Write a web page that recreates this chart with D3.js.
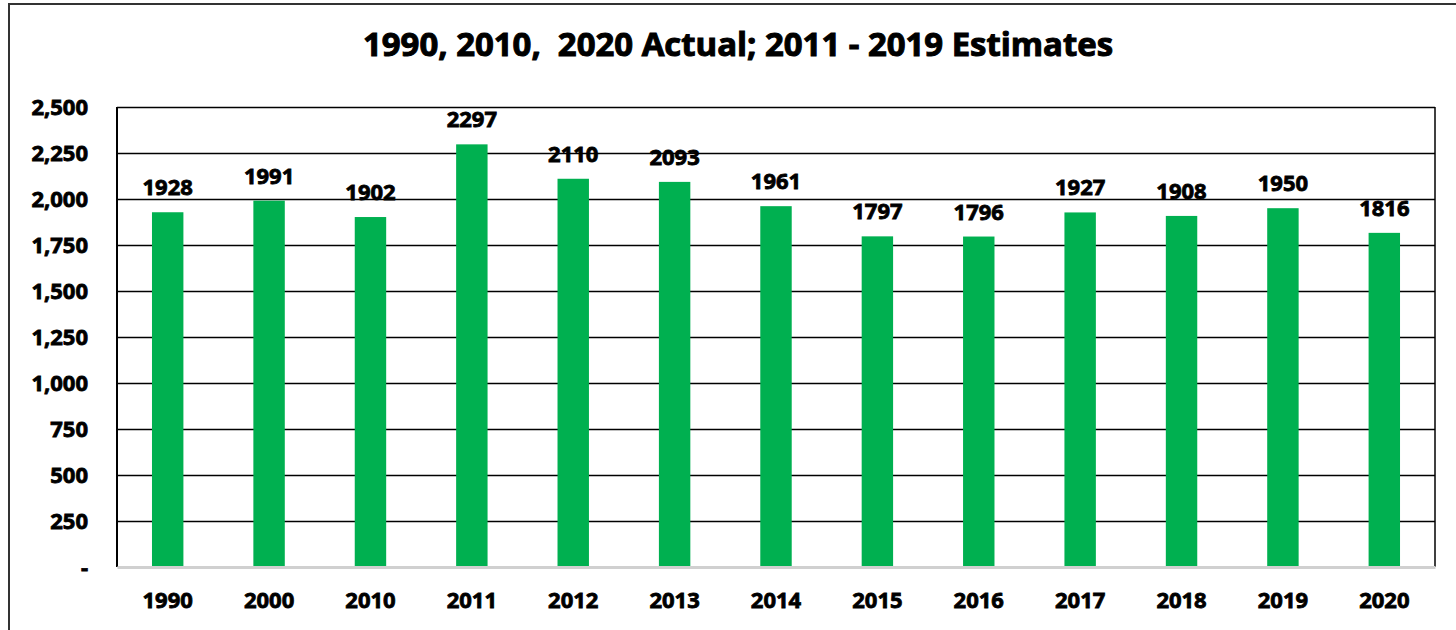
<!DOCTYPE html>
<html>
<head>
<meta charset="utf-8">
<script src="https://cdn.jsdelivr.net/npm/d3@7"></script>
<style>
  body { margin: 0; background: #fff; }
  text { font-family: 'Open Sans', sans-serif; font-weight: 700; fill: #000; stroke: #000; stroke-width: 0.8px; }
</style>
</head>
<body>
<div id="chart"></div>
<script>
const years = ['1990', '2000', '2010', '2011', '2012', '2013', '2014', '2015', '2016', '2017', '2018', '2019', '2020']
const values = [1928, 1991, 1902, 2297, 2110, 2093, 1961, 1797, 1796, 1927, 1908, 1950, 1816]
const yTicks = [0, 250, 500, 750, 1000, 1250, 1500, 1750, 2000, 2250, 2500]
const title = '1990, 2010,  2020 Actual; 2011 - 2019 Estimates'

const width = 1456
const height = 630
const plotLeft = 117
const plotRight = 1435
const plotTop = 107
const plotBottom = 567

const svg = d3.select('#chart').append('svg')
  .attr('width', width)
  .attr('height', height)

// outer frame (runs off the right and bottom edges)
svg.append('rect')
  .attr('x', 9).attr('y', 4)
  .attr('width', 1470).attr('height', 660)
  .attr('fill', 'none')
  .attr('stroke', '#333')
  .attr('stroke-width', 2)

svg.append('text')
  .attr('x', 738)
  .attr('y', 56)
  .attr('text-anchor', 'middle')
  .style('font-size', '32px')
  .style('stroke-width', '1px')
  .attr('textLength', 750)
  .attr('lengthAdjust', 'spacingAndGlyphs')
  .style('white-space', 'pre')
  .text(title)

const x = d3.scaleBand()
  .domain(years)
  .range([plotLeft, plotRight])
  .paddingInner(0.69)
  .paddingOuter(0.345)

const y = d3.scaleLinear()
  .domain([0, 2500])
  .range([plotBottom, plotTop])

// gridlines
svg.append('g')
  .attr('transform', 'translate(' + plotLeft + ',0)')
  .call(d3.axisLeft(y).tickValues(yTicks.filter(d => d > 0)).tickSize(-(plotRight - plotLeft)).tickFormat(''))
  .call(g => g.select('.domain').remove())
  .call(g => g.selectAll('line').attr('stroke', '#000').attr('stroke-width', 1.5))

// y labels
svg.append('g')
  .selectAll('text')
  .data(yTicks)
  .enter().append('text')
  .attr('x', 88)
  .attr('y', d => y(d))
  .attr('dy', '0.36em')
  .attr('text-anchor', 'end')
  .style('font-size', '22px')
  .text(d => d === 0 ? '-' : d3.format(',')(d))

// bars
svg.append('g')
  .selectAll('rect')
  .data(values)
  .enter().append('rect')
  .attr('x', (d, i) => x(years[i]))
  .attr('width', x.bandwidth())
  .attr('y', d => y(d))
  .attr('height', d => y(0) - y(d))
  .attr('fill', '#00B050')

// value labels
svg.append('g')
  .selectAll('text')
  .data(values)
  .enter().append('text')
  .attr('x', (d, i) => x(years[i]) + x.bandwidth() / 2)
  .attr('y', d => y(d) - 17)
  .attr('text-anchor', 'middle')
  .style('font-size', '22px')
  .text(d => d)

// plot borders
svg.append('line')
  .attr('x1', plotLeft).attr('x2', plotLeft)
  .attr('y1', plotTop).attr('y2', plotBottom)
  .attr('stroke', '#000').attr('stroke-width', 2)
svg.append('line')
  .attr('x1', plotRight).attr('x2', plotRight)
  .attr('y1', plotTop).attr('y2', plotBottom)
  .attr('stroke', '#000').attr('stroke-width', 1.5)

// x axis
svg.append('g')
  .attr('transform', 'translate(0,' + plotBottom + ')')
  .call(d3.axisBottom(x).tickSize(0).tickPadding(25))
  .call(g => g.select('.domain').attr('stroke', '#d0d0d0').attr('stroke-width', 3))
  .call(g => g.selectAll('text').style('font-size', '22px').attr('fill', '#000'))
  .call(g => g.attr('font-family', null).attr('font-size', null))
</script>
</body>
</html>
